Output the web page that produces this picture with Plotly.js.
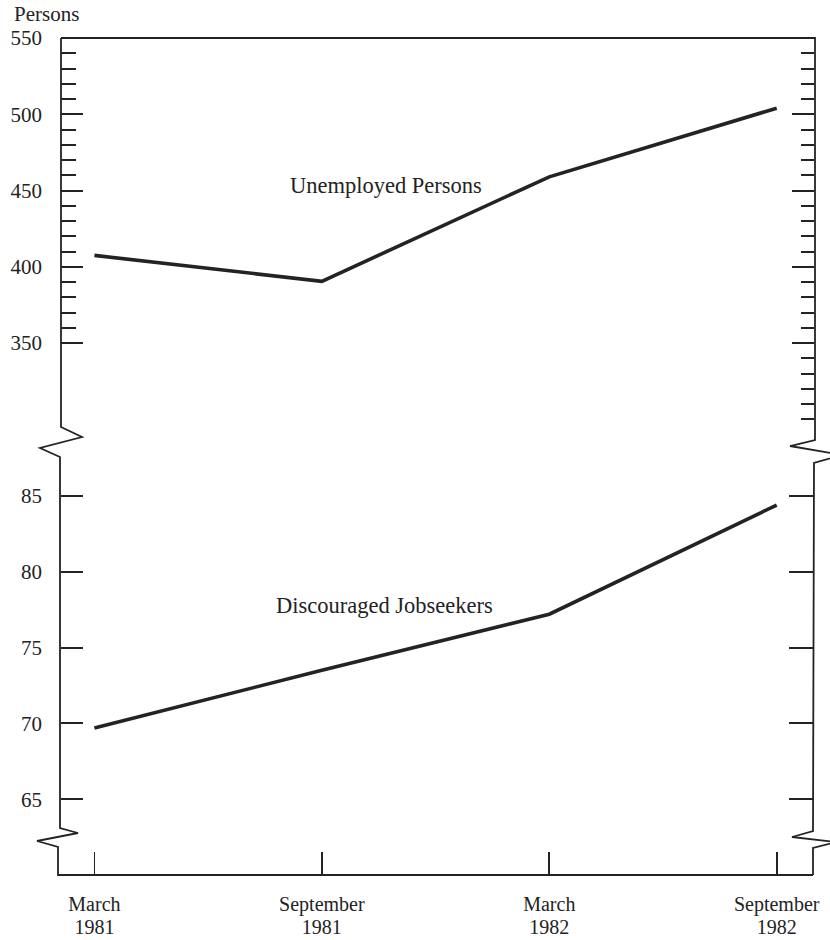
<!DOCTYPE html>
<html>
<head>
<meta charset="utf-8">
<script src="https://cdn.plot.ly/plotly-3.0.1.min.js"></script>
<style>html,body{margin:0;padding:0;background:#fff;}#chart{width:830px;height:940px;}</style>
</head>
<body>
<div id="chart"></div>
<script>
// ---- data ----
const periods = ["March 1981", "September 1981", "March 1982", "September 1982"];
const monthLabels = ["March", "September", "March", "September"];
const yearLabels = ["1981", "1981", "1982", "1982"];
const unemployedPersons = [407.5, 390.5, 459, 504];
const discouragedJobseekers = [69.7, 73.5, 77.2, 84.4];
const upperMajorTicks = [350, 400, 450, 500, 550];
const upperMajorTicksRight = [350, 400, 450, 500];
const upperMinorLeft = [360, 370, 380, 390, 410, 420, 430, 440, 460, 470, 480, 490, 510, 520, 530, 540];
const upperMinorRight = [300, 310, 320, 330, 340, 360, 370, 380, 390, 410, 420, 430, 440, 460, 470, 480, 490, 510, 520, 530, 540];
const lowerMajorTicks = [65, 70, 75, 80, 85];

// ---- geometry (pixels) ----
const W = 830, H = 940;
const L = 61, R = 16, T = 38, B = 65;
const plotW = W - L - R, plotH = H - T - B;
const px = x => (x - L) / plotW;
const py = y => (H - B - y) / plotH;
const INK = "#232323";
const FONT = "Liberation Serif, Times New Roman, serif";

const frameLeft = [[61,38],[61,427],[82,437],[40,448],[60,457],[60,828],[78,833],[37,841],[58,847],[58,875],[813,875]];
const frameRight = [[813,875],[813,848],[836,842],[792,837],[813,831],[814,463],[842,455],[790,446],[815,440],[815,38],[61,38]];
const toPath = pts => pts.map((p, i) => (i ? "L" : "M") + px(p[0]).toFixed(5) + "," + py(p[1]).toFixed(5)).join(" ");

const lineStyle = {color: INK, width: 3.6};
const noMark = {x: [], y: [], mode: "lines", hoverinfo: "skip", showlegend: false};
const traces = [
  {x: periods, y: unemployedPersons, xaxis: "x", yaxis: "y", mode: "lines", line: lineStyle, hoverinfo: "skip", showlegend: false},
  {x: periods, y: discouragedJobseekers, xaxis: "x", yaxis: "y2", mode: "lines", line: lineStyle, hoverinfo: "skip", showlegend: false},
  // empty traces that only register the secondary axes (right-hand ticks, year labels)
  Object.assign({xaxis: "x", yaxis: "y3"}, noMark),
  Object.assign({xaxis: "x", yaxis: "y4"}, noMark),
  Object.assign({xaxis: "x3", yaxis: "y2"}, noMark)
];

const xr = [-0.147, 3.164];
const upperRange = [295, 550];
const lowerRange = [60, 87.57];
const topDomain = [py(427), 1];
const botDomain = [0, py(457)];

const tickFont = {family: FONT, size: 21, color: INK};
const xFont = {family: FONT, size: 20, color: INK};

const layout = {
  width: W, height: H,
  margin: {l: L, r: R, t: T, b: B, pad: 0},
  paper_bgcolor: "#fff", plot_bgcolor: "rgba(0,0,0,0)",
  showlegend: false,
  xaxis: {
    type: "category", anchor: "y2", domain: [0, 1], range: xr,
    tickmode: "array", tickvals: periods, ticktext: monthLabels,
    ticks: "inside", ticklen: 23, tickwidth: 1.6, tickcolor: INK,
    ticklabelstandoff: 15, tickfont: xFont,
    showline: false, showgrid: false, zeroline: false, fixedrange: true
  },
  xaxis3: {
    type: "linear", overlaying: "x", anchor: "y2", side: "bottom", range: xr,
    tickmode: "array", tickvals: periods.map((_, i) => i), ticktext: yearLabels,
    ticks: "", ticklabelstandoff: 38, tickfont: xFont,
    showline: false, showgrid: false, zeroline: false, fixedrange: true
  },
  yaxis: {
    domain: topDomain, anchor: "x", range: upperRange,
    tickmode: "array", tickvals: upperMajorTicks, ticktext: upperMajorTicks.map(String),
    ticks: "inside", ticklen: 22, tickwidth: 2, tickcolor: INK,
    minor: {tickmode: "array", tickvals: upperMinorLeft, ticks: "inside", ticklen: 15, tickwidth: 2, tickcolor: INK, showgrid: false},
    ticklabelstandoff: 18, tickfont: tickFont,
    showline: false, showgrid: false, zeroline: false, fixedrange: true
  },
  yaxis3: {
    overlaying: "y", side: "right", anchor: "x", range: upperRange,
    tickmode: "array", tickvals: upperMajorTicksRight,
    ticks: "inside", ticklen: 22, tickwidth: 2, tickcolor: INK,
    minor: {tickmode: "array", tickvals: upperMinorRight, ticks: "inside", ticklen: 13, tickwidth: 2, tickcolor: INK, showgrid: false},
    showticklabels: false, showline: false, showgrid: false, zeroline: false, fixedrange: true
  },
  yaxis2: {
    domain: botDomain, anchor: "x", range: lowerRange,
    tickmode: "array", tickvals: lowerMajorTicks, ticktext: lowerMajorTicks.map(String),
    ticks: "inside", ticklen: 22, tickwidth: 2, tickcolor: INK,
    ticklabelstandoff: 18, tickfont: tickFont,
    showline: false, showgrid: false, zeroline: false, fixedrange: true
  },
  yaxis4: {
    overlaying: "y2", side: "right", anchor: "x", range: lowerRange,
    tickmode: "array", tickvals: lowerMajorTicks,
    ticks: "inside", ticklen: 25, tickwidth: 2, tickcolor: INK,
    showticklabels: false, showline: false, showgrid: false, zeroline: false, fixedrange: true
  },
  shapes: [
    {type: "path", xref: "paper", yref: "paper", path: toPath(frameLeft), line: {color: INK, width: 1.8}, fillcolor: "rgba(0,0,0,0)", layer: "above"},
    {type: "path", xref: "paper", yref: "paper", path: toPath(frameRight), line: {color: INK, width: 1.8}, fillcolor: "rgba(0,0,0,0)", layer: "above"}
  ],
  annotations: [
    {text: "Persons", xref: "paper", yref: "paper", x: px(12), y: py(14), xanchor: "left", yanchor: "middle", showarrow: false, font: {family: FONT, size: 21, color: INK}},
    {text: "Unemployed Persons", xref: "paper", yref: "paper", x: px(386), y: py(185), xanchor: "center", yanchor: "middle", showarrow: false, font: {family: FONT, size: 22.5, color: INK}},
    {text: "Discouraged Jobseekers", xref: "paper", yref: "paper", x: px(384), y: py(605), xanchor: "center", yanchor: "middle", showarrow: false, font: {family: FONT, size: 22.5, color: INK}}
  ]
};

Plotly.newPlot("chart", traces, layout, {staticPlot: true, displayModeBar: false});
</script>
</body>
</html>
